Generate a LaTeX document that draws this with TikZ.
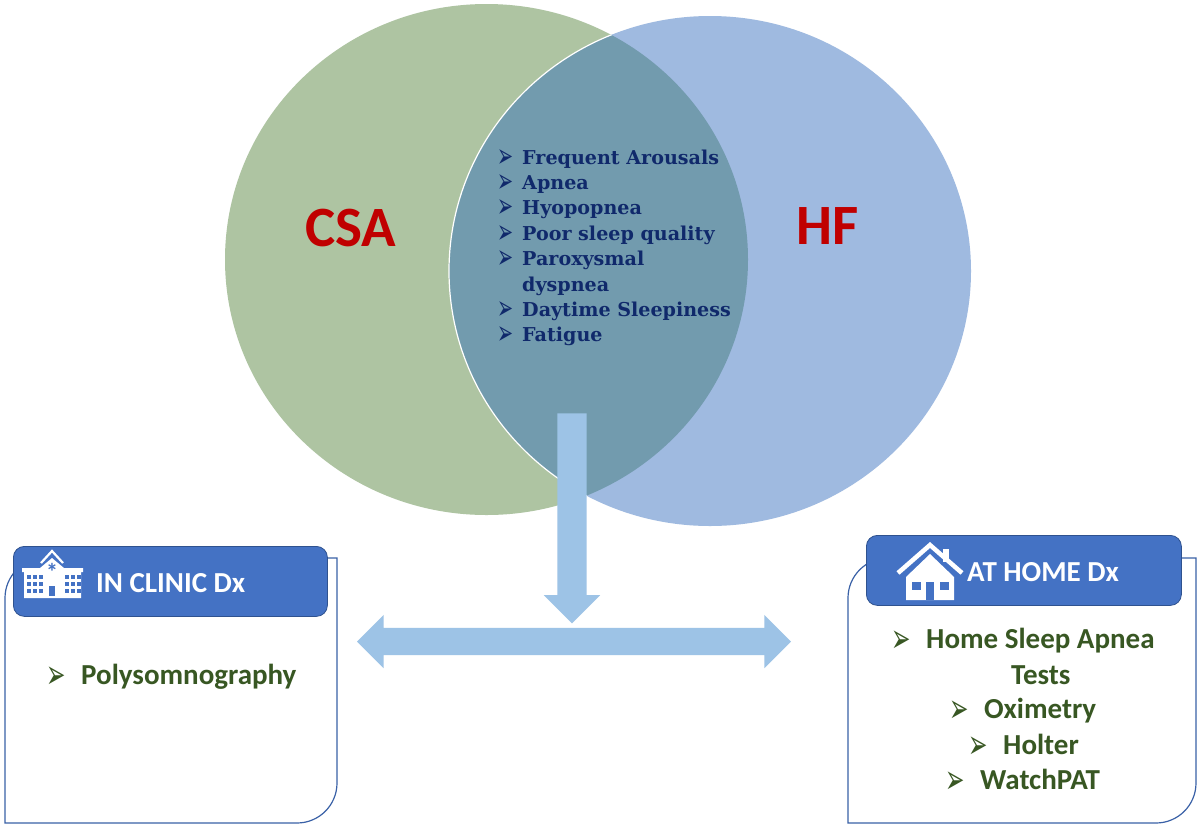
\documentclass[tikz,border=0pt]{standalone}
\usepackage{fontspec}
\setmainfont{Carlito}
\newfontfamily\listfont{DejaVu Serif}
\newfontfamily\bulfont{DejaVu Sans}
\usetikzlibrary{shapes.arrows}
\definecolor{csagreen}{HTML}{AEC4A2}
\definecolor{hfblue}{HTML}{9FBAE0}
\definecolor{overlap}{HTML}{729BAE}
\definecolor{arrowblue}{HTML}{9DC3E6}
\definecolor{headblue}{HTML}{4472C4}
\definecolor{headline}{HTML}{2F528F}
\definecolor{darkred}{HTML}{C00000}
\definecolor{navytext}{HTML}{10296B}
\definecolor{greentext}{HTML}{385723}
\newcommand{\listbul}[3]{\makebox[#1][l]{\raisebox{#3}{\scalebox{0.8}[1.4]{\fontsize{#2}{#2}\bulfont\mdseries\char"27A2}}}}
\begin{document}
\begin{tikzpicture}[x=1pt, y=-1pt]
\tikzstyle{title}=[font=\fontsize{57}{57}\selectfont\bfseries, text=darkred, anchor=base]
\tikzstyle{sym}=[font=\fontsize{19.1}{22}\selectfont\listfont\bfseries, text=navytext, anchor=base west, inner sep=0pt]
\tikzstyle{dx}=[font=\fontsize{29}{32}\selectfont\bfseries, text=greentext, anchor=base west, inner sep=0pt]
\tikzstyle{head}=[rectangle, rounded corners=11pt, fill=headblue, draw=headline, thick, anchor=north west, inner sep=0pt]
\tikzstyle{headtext}=[font=\fontsize{29}{32}\selectfont\bfseries, text=white, anchor=base west, inner sep=0pt]
\tikzstyle{panel}=[draw=headblue!85!black, line width=1.2pt, fill=white]
\tikzstyle{icon}=[fill=white, draw=none]
\tikzstyle{hole}=[fill=headblue, draw=none]
    \useasboundingbox (0,0) rectangle (1200,828);
    \fill[white] (0,0) rectangle (1200,828);
    % venn
    \fill[csagreen] (486.5,259.5) ellipse [x radius=261.5, y radius=255.5];
    \fill[hfblue] (710,271) ellipse [x radius=261, y radius=255];
    \begin{scope}
        \clip (486.5,259.5) ellipse [x radius=261.5, y radius=255.5];
        \fill[overlap] (710,271) ellipse [x radius=261, y radius=255];
        \draw[white, line width=1.2pt] (710,271) ellipse [x radius=261, y radius=255];
    \end{scope}
    \node[title] (csa) at (351,246) {CSA};
    \node[title] (hf) at (827.5,244) {HF};
    \foreach \i/\y/\txt in {1/164/Frequent Arousals, 2/189/Apnea, 3/214/Hyopopnea, 4/240/Poor sleep quality, 5/265/Paroxysmal, 7/316/Daytime Sleepiness, 8/341/Fatigue}
        \node[sym] (sym\i) at (497,\y) {\listbul{25pt}{24}{-3pt}\txt};
    \node[sym] (sym6) at (522,291) {dyspnea};
    % arrows
    \node[single arrow, fill=arrowblue, rotate=-90, minimum height=210pt, minimum width=56pt, text height=29pt, text depth=0pt, single arrow head extend=13.5pt, inner sep=0pt] (down) at (572,511) {};
    \node[double arrow, fill=arrowblue, minimum height=434pt, minimum width=53pt, text height=27pt, text depth=0pt, double arrow head extend=13pt, inner sep=0pt] (split) at (574,641.5) {};
    % in clinic
    \draw[panel] (5,823) -- (5,600) [rounded corners=40pt] -- (5,558) [sharp corners] -- (337,558) [rounded corners=40pt] -- (337,823) [sharp corners] -- cycle;
    \node[head, minimum width=314pt, minimum height=70pt] (clinic) at (13,546) {};
    \fill[icon] (22,568) -- (83,568) -- (83,572) -- (81,572) -- (81,598) -- (24,598) -- (24,572) -- (22,572) -- cycle;
    \fill[icon] (52,558) -- (64,568) -- (40,568) -- cycle;
    \draw[white, line width=2.2pt] (41,563) -- (52,551) -- (63,563);
    \node[text=headblue, font=\fontsize{24}{24}\selectfont\bfseries, inner sep=0pt] (star) at (52,572) {*};
    \fill[hole] (49,586) rectangle (55,596);
    \foreach \x in {27,33,39,65,71,77}
        \foreach \y in {575,582,589}
            \fill[hole] (\x,\y) rectangle +(4,4);
    \node[headtext] (clinictext) at (96,592) {IN CLINIC Dx};
    \node[dx] (poly) at (46,684.5) {\listbul{35pt}{29}{-4pt}Polysomnography};
    % at home
    \draw[panel] (848,823) -- (848,600) [rounded corners=40pt] -- (848,558) [sharp corners] -- (1196,558) [rounded corners=40pt] -- (1196,823) [sharp corners] -- cycle;
    \node[head, minimum width=315pt, minimum height=70pt] (home) at (866,535) {};
    \fill[icon] (943,549) rectangle (949,562);
    \draw[white, line width=4.5pt] (898,573) -- (930,545) -- (962,573);
    \fill[icon] (930,554) -- (954,577) -- (954,600) -- (906,600) -- (906,577) -- cycle;
    \fill[hole] (912,582) rectangle (921,590);
    \fill[hole] (940,582) rectangle (949,590);
    \fill[hole] (926,582) rectangle (934,600);
    \node[headtext] (hometext) at (967,581) {AT HOME Dx};
    \node[dx] (hsat) at (891,648) {\listbul{35pt}{29}{-4pt}Home Sleep Apnea};
    \node[dx] (tests) at (1011,684) {Tests};
    \node[dx] (oxi) at (949,718) {\listbul{35pt}{29}{-4pt}Oximetry};
    \node[dx] (holter) at (968,754) {\listbul{35pt}{29}{-4pt}Holter};
    \node[dx] (watch) at (945,789) {\listbul{35pt}{29}{-4pt}WatchPAT};
\end{tikzpicture}
\end{document}
